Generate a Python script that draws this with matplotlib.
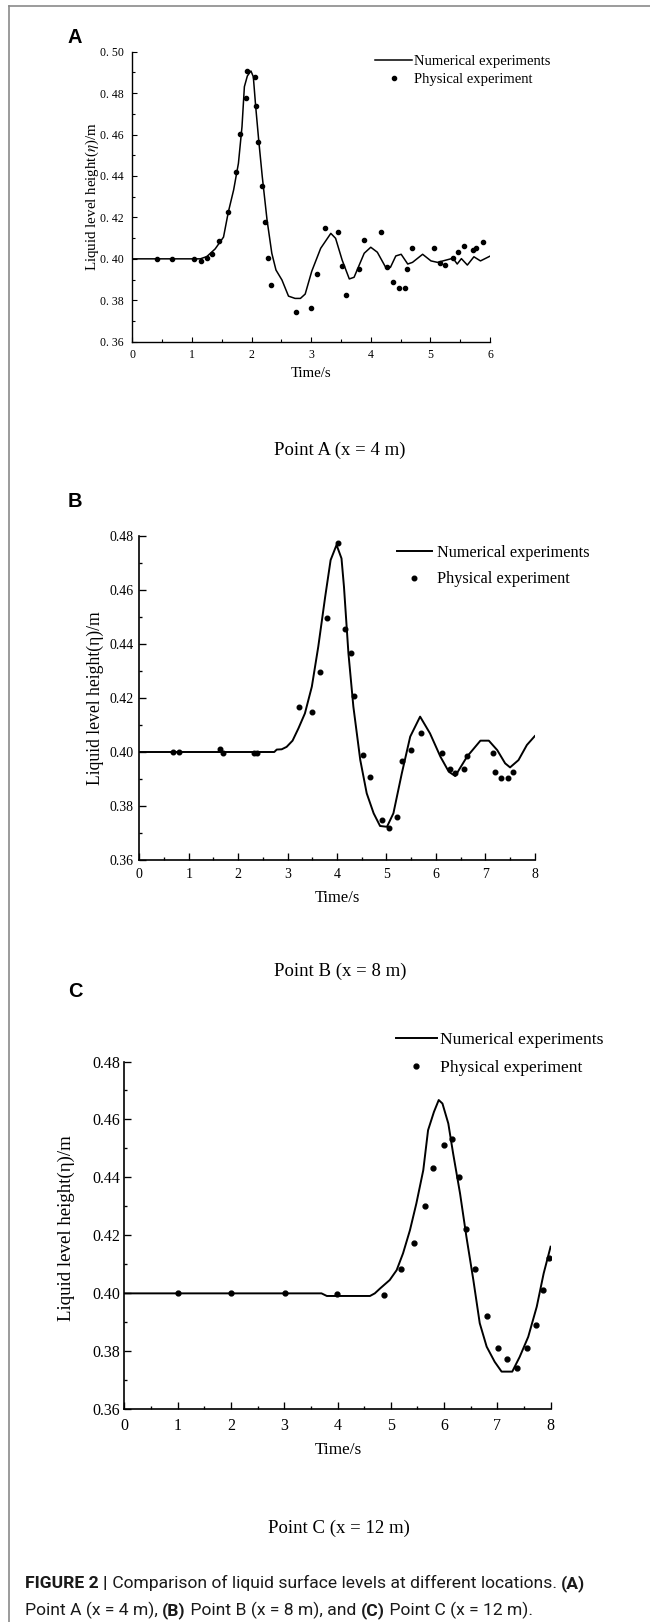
import matplotlib
matplotlib.use('Agg')
import matplotlib.pyplot as plt
from matplotlib.lines import Line2D
from matplotlib.ticker import MultipleLocator, FuncFormatter

plt.rcParams['font.family'] = ['Liberation Serif', 'DejaVu Serif']
plt.rcParams['mathtext.fontset'] = 'stix'

W, H = 650, 1622

# Point A (x = 4 m)
a_num_t = [0.0, 1.14, 1.25, 1.39, 1.53, 1.61, 1.70, 1.78, 1.84, 1.88, 1.93, 1.99, 2.03, 2.07, 2.12,
           2.18, 2.26, 2.34, 2.41, 2.51, 2.62, 2.73, 2.82, 2.90, 3.01, 3.16, 3.33, 3.41, 3.52, 3.64,
           3.72, 3.89, 4.00, 4.11, 4.25, 4.33, 4.42, 4.51, 4.62, 4.70, 4.87, 5.01, 5.12, 5.38, 5.45,
           5.52, 5.62, 5.73, 5.84, 6.00]
a_num_h = [0.400, 0.400, 0.4011, 0.4048, 0.4105, 0.4225, 0.4333, 0.4461, 0.4638, 0.4831, 0.4883,
           0.4907, 0.4879, 0.4734, 0.4574, 0.4397, 0.4188, 0.4027, 0.3946, 0.3898, 0.3820, 0.3809,
           0.3809, 0.3830, 0.3940, 0.4051, 0.4123, 0.4099, 0.3994, 0.3903, 0.3911, 0.4027, 0.4056,
           0.4032, 0.3959, 0.3959, 0.4014, 0.4022, 0.3975, 0.3983, 0.4022, 0.3990, 0.3983, 0.4003,
           0.3975, 0.4001, 0.3970, 0.4010, 0.3990, 0.4013]
a_exp_t = [0.42, 0.67, 1.04, 1.16, 1.25, 1.33, 1.46, 1.60, 1.74, 1.81, 1.90, 1.93, 2.05, 2.08, 2.11,
           2.18, 2.23, 2.28, 2.33, 2.74, 2.99, 3.10, 3.23, 3.45, 3.52, 3.58, 3.80, 3.89, 4.17, 4.28,
           4.38, 4.48, 4.57, 4.60, 4.69, 5.06, 5.16, 5.24, 5.38, 5.46, 5.56, 5.71, 5.77, 5.88]
a_exp_h = [0.400, 0.400, 0.400, 0.3992, 0.4005, 0.4024, 0.4086, 0.4228, 0.4421, 0.4603, 0.4778,
           0.4908, 0.4879, 0.4738, 0.4564, 0.4352, 0.4179, 0.4003, 0.3874, 0.3742, 0.3764, 0.3927,
           0.4150, 0.4129, 0.3966, 0.3825, 0.3949, 0.4090, 0.4131, 0.3959, 0.3888, 0.3857, 0.3857,
           0.3949, 0.4051, 0.4051, 0.3981, 0.3970, 0.4002, 0.4031, 0.4063, 0.4042, 0.4051, 0.4082]

# Point B (x = 8 m)
b_num_t = [0.0, 2.73, 2.78, 2.88, 2.98, 3.10, 3.22, 3.35, 3.49, 3.62, 3.76, 3.87, 3.99, 4.09, 4.14,
           4.23, 4.33, 4.47, 4.60, 4.74, 4.87, 5.01, 5.14, 5.31, 5.48, 5.68, 5.88, 6.09, 6.26, 6.39,
           6.63, 6.90, 7.07, 7.24, 7.40, 7.50, 7.67, 7.84, 8.00]
b_num_h = [0.400, 0.400, 0.4009, 0.4010, 0.4019, 0.4042, 0.4088, 0.4143, 0.4242, 0.4390, 0.4575,
           0.4711, 0.4767, 0.4717, 0.4612, 0.4366, 0.4168, 0.3970, 0.3847, 0.3773, 0.3726, 0.3723,
           0.3773, 0.3921, 0.4057, 0.4131, 0.4069, 0.3983, 0.3927, 0.3911, 0.3983, 0.4042, 0.4042,
           0.4007, 0.3958, 0.3943, 0.3970, 0.4026, 0.4059]
b_exp_t = [0.69, 0.80, 1.63, 1.69, 2.32, 2.39, 3.24, 3.49, 3.65, 3.80, 4.01, 4.17, 4.29, 4.34, 4.52,
           4.67, 4.91, 5.06, 5.21, 5.32, 5.49, 5.70, 6.12, 6.28, 6.38, 6.56, 6.63, 7.15, 7.19, 7.31,
           7.46, 7.55]
b_exp_h = [0.400, 0.400, 0.4011, 0.3998, 0.3998, 0.3998, 0.4168, 0.4148, 0.4298, 0.4498, 0.4773,
           0.4457, 0.4368, 0.4207, 0.3988, 0.3906, 0.3748, 0.3717, 0.3758, 0.3968, 0.4007, 0.4071,
           0.3997, 0.3938, 0.3923, 0.3938, 0.3985, 0.3995, 0.3925, 0.3903, 0.3903, 0.3925]

# Point C (x = 12 m)
c_num_t = [0.0, 3.70, 3.80, 4.61, 4.70, 4.80, 4.98, 5.11, 5.23, 5.36, 5.48, 5.61, 5.70, 5.81, 5.90,
           5.97, 6.08, 6.17, 6.30, 6.42, 6.55, 6.67, 6.80, 6.95, 7.08, 7.28, 7.42, 7.58, 7.74, 7.87, 8.00]
c_num_h = [0.400, 0.400, 0.3991, 0.3991, 0.4000, 0.4017, 0.4046, 0.4080, 0.4138, 0.4218, 0.4310,
           0.4425, 0.4563, 0.4626, 0.4667, 0.4655, 0.4586, 0.4483, 0.4345, 0.4195, 0.4046, 0.3897,
           0.3816, 0.3764, 0.3730, 0.3730, 0.3781, 0.3850, 0.3954, 0.4069, 0.4161]
c_exp_t = [1.00, 2.01, 3.01, 3.99, 4.87, 5.20, 5.43, 5.64, 5.80, 5.99, 6.14, 6.29, 6.42, 6.58, 6.80,
           7.02, 7.19, 7.36, 7.55, 7.72, 7.85, 7.97]
c_exp_h = [0.400, 0.400, 0.400, 0.3999, 0.3994, 0.4084, 0.4173, 0.4303, 0.4433, 0.4512, 0.4532,
           0.4402, 0.4223, 0.4083, 0.3923, 0.3812, 0.3772, 0.3743, 0.3812, 0.3892, 0.4011, 0.4123]

fig = plt.figure(figsize=(W / 100, H / 100), dpi=100)


def fx(x):
    return x / W


def fy(y):
    return 1 - y / H


def add_axes_px(left, top, right, bottom):
    return fig.add_axes([fx(left), fy(bottom), (right - left) / W, (bottom - top) / H])


def panel(ax, tn, hn, te, he, xmax, ymax, fmt, tick_fs, lw, ms, spine_w, tlen,
          pad_y, pad_x, leg_xy, leg_fs, hlen, hpad, lspace):
    ln, = ax.plot(tn, hn, color='black', lw=lw, label='Numerical experiments')
    dots, = ax.plot(te, he, 'o', color='black', ms=ms, ls='none', label='Physical experiment')
    ax.set_xlim(0, xmax)
    ax.set_ylim(0.36, ymax)
    ax.xaxis.set_major_locator(MultipleLocator(1))
    ax.xaxis.set_minor_locator(MultipleLocator(0.5))
    ax.yaxis.set_major_locator(MultipleLocator(0.02))
    ax.yaxis.set_minor_locator(MultipleLocator(0.01))
    ax.yaxis.set_major_formatter(FuncFormatter(fmt))
    ax.xaxis.set_major_formatter(FuncFormatter(lambda v, p: '%d' % round(v)))
    for s in ['top', 'right']:
        ax.spines[s].set_visible(False)
    for s in ['left', 'bottom']:
        ax.spines[s].set_linewidth(spine_w)
    ax.tick_params(which='major', direction='in', length=tlen, width=spine_w * 0.8,
                   labelsize=tick_fs)
    ax.tick_params(which='minor', direction='in', length=tlen / 2, width=spine_w * 0.8)
    ax.tick_params(axis='y', pad=pad_y)
    ax.tick_params(axis='x', pad=pad_x)
    ax.patch.set_alpha(0)
    ax.legend(handles=[ln, dots], loc='upper left', bbox_to_anchor=(fx(leg_xy[0]), fy(leg_xy[1])),
              bbox_transform=fig.transFigure, frameon=False, borderpad=0, borderaxespad=0,
              fontsize=leg_fs, handlelength=hlen, handletextpad=hpad, labelspacing=lspace,
              numpoints=1)


ax_a = add_axes_px(132.3, 51.7, 490, 341.7)
panel(ax_a, a_num_t, a_num_h, a_exp_t, a_exp_h, 6, 0.50,
      lambda v, p: ('%.2f' % v).replace('.', '. '), 8.5, 1.1, 3.0, 1.0, 3.8,
      6, 5, (375, 54.6), 10.5, 2.55, 0.1, 0.36)

ax_b = add_axes_px(139.3, 536, 534.8, 860)
panel(ax_b, b_num_t, b_num_h, b_exp_t, b_exp_h, 8, 0.48,
      lambda v, p: '%.2f' % v, 10, 1.4, 3.3, 1.2, 5, 4, 5.5,
      (396.7, 545), 11.7, 2.15, 0.3, 0.63)

ax_c = add_axes_px(124.4, 1061.5, 550.6, 1409.3)
panel(ax_c, c_num_t, c_num_h, c_exp_t, c_exp_h, 8, 0.48,
      lambda v, p: '%.2f' % v, 11.5, 1.4, 3.5, 1.2, 5, 3, 6,
      (396, 1031.7), 12.6, 2.34, 0.15, 0.7)

# axis labels
fig.text(fx(92), fy(196.7), r'Liquid level height($\eta$)/m', rotation=90, fontsize=10.8,
         ha='center', va='center')
fig.text(fx(95), fy(698), 'Liquid level height(η)/m', rotation=90, fontsize=12.7,
         ha='center', va='center')
fig.text(fx(66.7), fy(1228), 'Liquid level height(η)/m', rotation=90, fontsize=13.6,
         ha='center', va='center')
fig.text(fx(311), fy(373.3), 'Time/s', fontsize=10.6, ha='center', va='center')
fig.text(fx(337), fy(898.3), 'Time/s', fontsize=11.9, ha='center', va='center')
fig.text(fx(338), fy(1450), 'Time/s', fontsize=12.4, ha='center', va='center')

# sub-figure titles
fig.text(fx(340), fy(450.7), 'Point A (x = 4 m)', fontsize=13.5, ha='center', va='center')
fig.text(fx(340), fy(971.7), 'Point B (x = 8 m)', fontsize=13.5, ha='center', va='center')
fig.text(fx(339), fy(1528.3), 'Point C (x = 12 m)', fontsize=13.5, ha='center', va='center')

# panel letters
for letter, base in [('A', 43), ('B', 507.3), ('C', 996.7)]:
    fig.text(fx(68), fy(base), letter, fontsize=14.4, fontweight='bold',
             family='Liberation Sans', ha='left', va='baseline')

# caption, written piece by piece
renderer = fig.canvas.get_renderer()


def run_text(x, y, pieces, size):
    for s, bold in pieces:
        t = fig.text(fx(x), fy(y), s, fontsize=size, family='Roboto',
                     fontweight='bold' if bold else 'normal', ha='left', va='baseline',
                     color='#1a1a1a')
        x += t.get_window_extent(renderer).width


cap_fs = 12.6
run_text(25, 1588, [('FIGURE 2 |', True),
                    (' Comparison of liquid surface levels at different locations. ', False),
                    ('(A)', True)], cap_fs)
run_text(25, 1615, [('Point A (x = 4 m), ', False), ('(B)', True),
                    (' Point B (x = 8 m), and ', False), ('(C)', True),
                    (' Point C (x = 12 m).', False)], cap_fs)

# grey frame around the figure
fig.add_artist(Line2D([fx(9), fx(9)], [0, fy(6)], transform=fig.transFigure,
                      color='#8a8a8a', lw=1.2))
fig.add_artist(Line2D([fx(9), 1], [fy(6), fy(6)], transform=fig.transFigure,
                      color='#8a8a8a', lw=1.2))

fig.savefig('out.png', dpi=100)
